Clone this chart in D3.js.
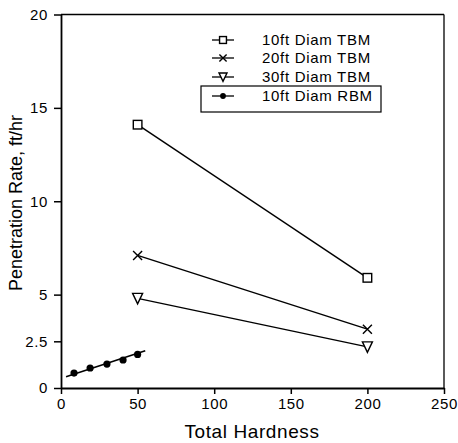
<!DOCTYPE html>
<html>
<head>
<meta charset="utf-8">
<script src="https://cdn.jsdelivr.net/npm/d3@7"></script>
<style>
  body { margin: 0; background: #fff; }
  svg { display: block; font-family: "Liberation Sans", Arial, sans-serif; }
</style>
</head>
<body>
<svg id="chart" width="458" height="443"></svg>
<script>
// ---- data ----
const xTicks = [0, 50, 100, 150, 200, 250];
const yTicks = [0, 2.5, 5, 10, 15, 20];
const yTickLabels = ["0", "2.5", "5", "10", "15", "20"];
const tbmHardness = [50, 200];
const tbm10 = [14.1, 5.9];
const tbm20 = [7.1, 3.15];
const tbm30 = [4.8, 2.2];
const rbmHardness = [8.5, 19, 30, 40.5, 50];
const rbm10 = [0.8, 1.07, 1.28, 1.5, 1.8];
const rbmFitX = [3.3, 55];
const rbmFitY = [0.6, 2.0];
const legendLabels = ["10ft Diam TBM", "20ft Diam TBM", "30ft Diam TBM", "10ft Diam RBM"];

const svg = d3.select("#chart");
const x = d3.scaleLinear().domain([0, 250]).range([61, 444]);
const y = d3.scaleLinear().domain([0, 20]).range([388, 14.5]);

// frame top/right
svg.append("line").attr("x1", x(0)).attr("x2", x(250)).attr("y1", y(20)).attr("y2", y(20))
  .attr("stroke", "#000").attr("stroke-width", 1.3);
svg.append("line").attr("x1", x(250)).attr("x2", x(250)).attr("y1", y(20)).attr("y2", y(0))
  .attr("stroke", "#000").attr("stroke-width", 1.3);

const xAxis = svg.append("g").attr("transform", `translate(0,${y(0)})`)
  .call(d3.axisBottom(x).tickValues(xTicks).tickSize(6).tickPadding(4).tickSizeOuter(0));
const yAxis = svg.append("g").attr("transform", `translate(${x(0)},0)`)
  .call(d3.axisLeft(y).tickValues(yTicks).tickFormat((d, i) => yTickLabels[i]).tickSize(7).tickPadding(6).tickSizeOuter(0));
[xAxis, yAxis].forEach(g => {
  g.select(".domain").attr("stroke", "#000").attr("stroke-width", 1.8);
  g.selectAll(".tick line").attr("stroke", "#000").attr("stroke-width", 1.5);
  g.selectAll(".tick text").attr("fill", "#000").style("font-size", "15px")
    .style("letter-spacing", "0.6px")
    .style("font-family", "'Liberation Sans', Arial, sans-serif");
});

// axis titles
svg.append("text").attr("x", 252).attr("y", 438).attr("text-anchor", "middle")
  .style("font-size", "19px").style("letter-spacing", "0.6px").text("Total Hardness");
svg.append("text").attr("transform", "translate(22,203) rotate(-90)").attr("text-anchor", "middle")
  .style("font-size", "18px").text("Penetration Rate, ft/hr");

const line = d3.line().x(d => x(d[0])).y(d => y(d[1]));
const series = [tbm10, tbm20, tbm30];
series.forEach(s => {
  svg.append("path").datum(tbmHardness.map((h, i) => [h, s[i]])).attr("d", line)
    .attr("fill", "none").attr("stroke", "#000").attr("stroke-width", 1.4);
});
svg.append("path").datum(rbmFitX.map((h, i) => [h, rbmFitY[i]])).attr("d", line)
  .attr("fill", "none").attr("stroke", "#000").attr("stroke-width", 1.6);

function marker(g, type, cx, cy, s) {
  s = s || 1;
  if (type === 0) {
    g.append("rect").attr("x", cx - 4.3 * s).attr("y", cy - 4.3 * s).attr("width", 8.6 * s).attr("height", 8.6 * s)
      .attr("fill", "#fff").attr("stroke", "#000").attr("stroke-width", 1.4);
  } else if (type === 1) {
    const r = 4.5 * s;
    g.append("path").attr("d", `M${cx-r},${cy-r}L${cx+r},${cy+r}M${cx-r},${cy+r}L${cx+r},${cy-r}`)
      .attr("stroke", "#000").attr("stroke-width", 1.4);
  } else if (type === 2) {
    g.append("path").attr("d", `M${cx-5*s},${cy-5*s}L${cx+5*s},${cy-5*s}L${cx},${cy+5.5*s}Z`)
      .attr("fill", "#fff").attr("stroke", "#000").attr("stroke-width", 1.4);
  } else {
    g.append("circle").attr("cx", cx).attr("cy", cy).attr("r", 3.6 * s).attr("fill", "#000");
  }
}
const mg = svg.append("g");
series.forEach((s, k) => tbmHardness.forEach((h, i) => marker(mg, k, x(h), y(s[i]))));
rbmHardness.forEach((h, i) => marker(mg, 3, x(h), y(rbm10[i])));

// legend
const lg = svg.append("g");
const rowY = [40, 58, 77, 96];
lg.append("rect").attr("x", 201).attr("y", 86).attr("width", 180).attr("height", 26)
  .attr("fill", "none").attr("stroke", "#000").attr("stroke-width", 1.2);
legendLabels.forEach((t, i) => {
  lg.append("line").attr("x1", 212).attr("x2", 234).attr("y1", rowY[i]).attr("y2", rowY[i])
    .attr("stroke", "#000").attr("stroke-width", 1.3);
  marker(lg, i, 223, rowY[i], 0.8);
  lg.append("text").attr("x", 262).attr("y", rowY[i] + 5).style("font-size", "15px")
    .style("letter-spacing", "0.7px").text(t);
});
</script>
</body>
</html>
